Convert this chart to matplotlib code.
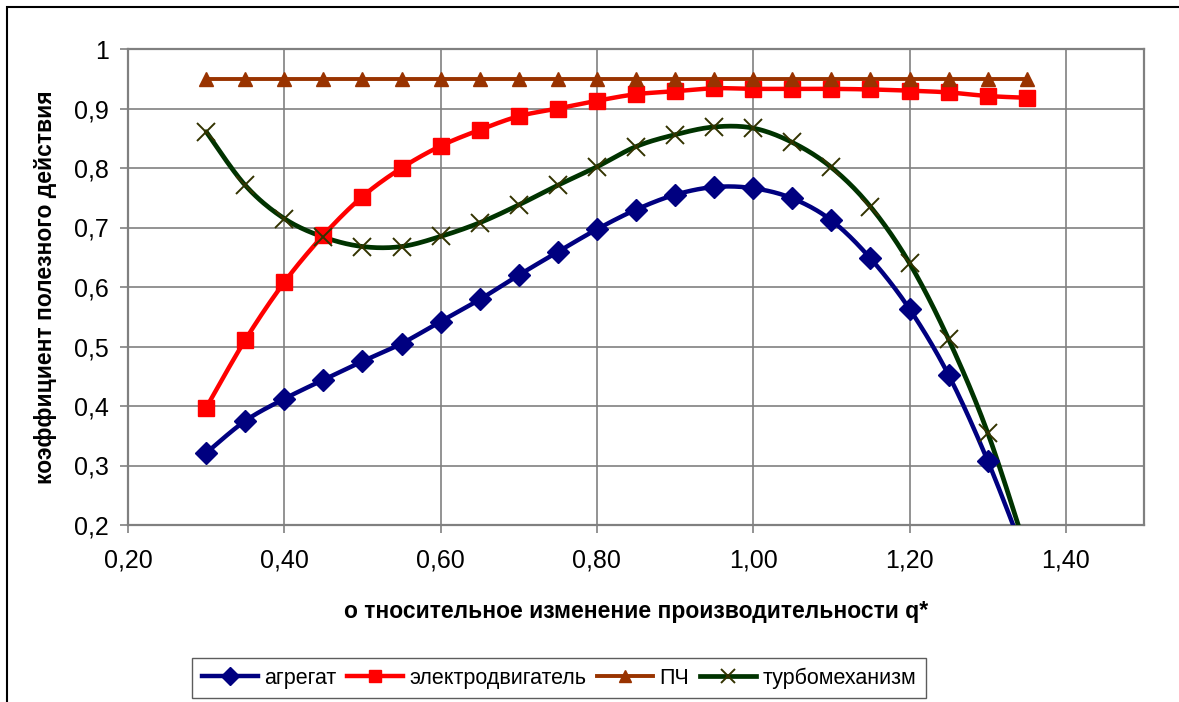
import numpy as np
import matplotlib
matplotlib.use("Agg")
import matplotlib.pyplot as plt
from matplotlib.patches import Rectangle

plt.rcParams['font.family'] = ['Liberation Sans', 'DejaVu Sans']

# relative change of flow q*
q = [0.30, 0.35, 0.40, 0.45, 0.50, 0.55, 0.60, 0.65, 0.70, 0.75, 0.80,
     0.85, 0.90, 0.95, 1.00, 1.05, 1.10, 1.15, 1.20, 1.25, 1.30, 1.35]

# efficiency of each part of the drive
agregat = [0.321, 0.375, 0.412, 0.444, 0.475, 0.505, 0.542, 0.579, 0.620, 0.659, 0.697,
           0.730, 0.755, 0.768, 0.766, 0.749, 0.712, 0.648, 0.563, 0.452, 0.308, 0.14]
motor = [0.397, 0.511, 0.608, 0.687, 0.752, 0.800, 0.837, 0.864, 0.887, 0.900, 0.913,
         0.924, 0.929, 0.934, 0.933, 0.933, 0.933, 0.932, 0.930, 0.927, 0.921, 0.918]
pch = [0.95] * 22
turbo = [0.861, 0.771, 0.715, 0.684, 0.668, 0.668, 0.685, 0.708, 0.738, 0.771, 0.802,
         0.836, 0.856, 0.869, 0.867, 0.843, 0.801, 0.735, 0.640, 0.512, 0.355, 0.155]

labels = ['агрегат', 'электродвигатель', 'ПЧ', 'турбомеханизм']


def smooth(x, y, n=20):
    # smoothed line through the points (bezier segments, catmull-rom tangents)
    p = np.column_stack([x, y]).astype(float)
    out = []
    t = np.linspace(0, 1, n)[:, None]
    for i in range(len(p) - 1):
        p0 = p[i - 1] if i > 0 else p[i]
        p1, p2 = p[i], p[i + 1]
        p3 = p[i + 2] if i + 2 < len(p) else p[i + 1]
        c1 = p1 + (p2 - p0) / 6
        c2 = p2 - (p3 - p1) / 6
        seg = ((1 - t) ** 3) * p1 + 3 * ((1 - t) ** 2) * t * c1 + 3 * (1 - t) * t ** 2 * c2 + t ** 3 * p2
        out.append(seg if i == 0 else seg[1:])
    out = np.vstack(out)
    return out[:, 0], out[:, 1]


fig = plt.figure(figsize=(11.79, 7.02), dpi=100)
ax = fig.add_axes([128 / 1179, 1 - 525 / 702, (1144 - 128) / 1179, (525 - 49) / 702])

series = [
    (agregat, '#000080', 'D', 11, '#000080', 1.0, 3.2),
    (motor, '#ff0000', 's', 11, '#ff0000', 1.0, 3.2),
    (pch, '#993300', '^', 10, '#993300', 1.0, 2.8),
    (turbo, '#003300', 'x', 12.5, '#333300', 1.4, 3.4),
]

handles = []
for (vals, col, mk, ms, mcol, mew, lw), lab in zip(series, labels):
    sx, sy = smooth(q, vals)
    ax.plot(sx, sy, color=col, lw=lw, zorder=3, solid_capstyle='round')
    ax.plot(q, vals, ls='none', marker=mk, ms=ms, color=mcol, mec=mcol, mew=mew, zorder=4)
    h, = ax.plot([], [], color=col, lw=lw, marker=mk, ms=ms * 0.85, mfc=mcol, mec=mcol, mew=mew)
    handles.append(h)

ax.set_xlim(0.2, 1.5)
ax.set_ylim(0.2, 1.0)
ax.set_xticks(np.arange(0.2, 1.41, 0.2))
ax.set_yticks(np.arange(0.2, 1.01, 0.1))
ax.set_xticklabels([f"{v:.2f}".replace('.', ',') for v in np.arange(0.2, 1.41, 0.2)])
ax.set_yticklabels(['0,2', '0,3', '0,4', '0,5', '0,6', '0,7', '0,8', '0,9', '1'])
ax.grid(True, color='#808080', lw=1.2)
ax.set_axisbelow(True)
for s in ax.spines.values():
    s.set_color('#808080')
    s.set_linewidth(1.6)
ax.tick_params(axis='both', direction='out', length=6, width=1.2, color='#808080',
               labelsize=18, labelcolor='black')
ax.tick_params(axis='x', pad=11)
ax.tick_params(axis='y', pad=8)

ax.set_ylabel('коэффициент полезного действия', fontsize=16.5, fontweight='bold', labelpad=12)
ax.set_xlabel('о тносительное изменение производительности q*', fontsize=16.5,
              fontweight='bold', labelpad=20)

leg = fig.legend(handles, labels, loc='center', bbox_to_anchor=(559 / 1179, 1 - 678 / 702),
                 ncol=4, frameon=True, fontsize=15.5, handlelength=2.6, handletextpad=0.3,
                 columnspacing=0.5, borderpad=0.45, fancybox=False)
leg.get_frame().set_edgecolor('#333333')
leg.get_frame().set_linewidth(1.0)

# outer chart frame
fig.patches.append(Rectangle((7 / 1179, -0.05), 1.2, 1 - 7 / 702 + 0.05, transform=fig.transFigure,
                             fill=False, edgecolor='black', lw=1.5, zorder=0))

fig.savefig('out.png', dpi=100)
